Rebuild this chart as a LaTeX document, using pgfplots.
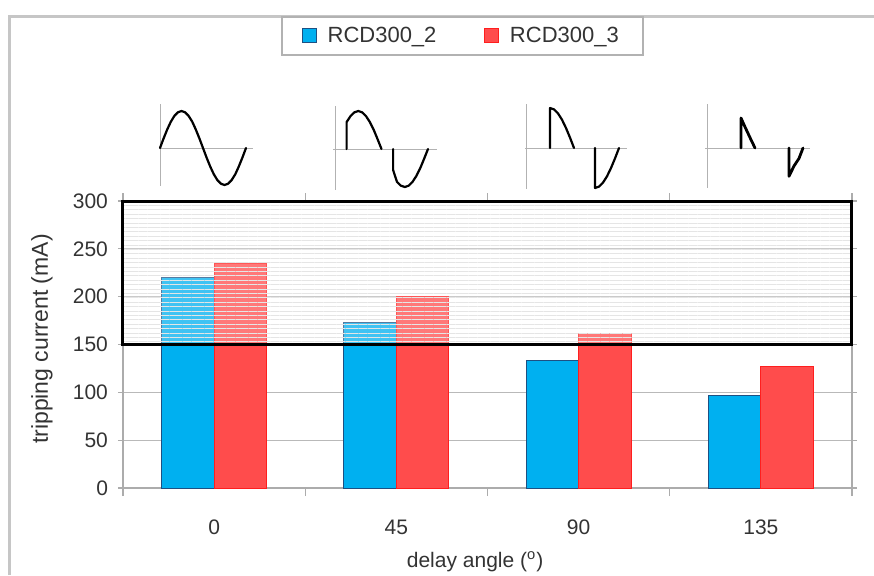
\documentclass[border=0pt]{standalone}
\usepackage{fontspec}
\setmainfont{Liberation Sans}
\usepackage{pgfplots}
\pgfplotsset{compat=1.18}
\usetikzlibrary{patterns.meta}
\definecolor{bblue}{RGB}{0,176,240}
\definecolor{bblueedge}{RGB}{30,80,130}
\definecolor{rred}{RGB}{255,76,76}
\definecolor{rrededge}{RGB}{255,30,30}
\begin{document}
\begin{tikzpicture}
% overlay axis in pixel coordinates for frame and waveform icons
\begin{axis}[at={(0,0)}, anchor=south west, scale only axis,
  width=437pt, height=287.5pt, xmin=0, xmax=874, ymin=0, ymax=575,
  y dir=reverse, hide axis, clip=false,
  iconax/.style={gray!60, line width=0.5pt},
  wave/.style={black, line width=1.1pt, line join=round, line cap=round}]
\addplot[gray!45, line width=1.5pt] coordinates {(9,575)(9,16)(874,16)};
% icon 1
\addplot[iconax] coordinates {(160,104)(160,186)};
\addplot[iconax] coordinates {(160,148)(253,148)};
\addplot[wave] coordinates {(160,148)(163.6,138.4)(167.2,129.5)(170.8,121.8)(174.3,116)(177.9,112.3)(181.5,111)(185.1,112.3)(188.7,116)(192.3,121.8)(195.8,129.5)(199.4,138.4)(203,148)(206.6,157.6)(210.2,166.5)(213.8,174.2)(217.3,180)(220.9,183.7)(224.5,185)(228.1,183.7)(231.7,180)(235.3,174.2)(238.8,166.5)(242.4,157.6)(246,148)};
% icon 2
\addplot[iconax] coordinates {(335,106)(335,190)};
\addplot[iconax] coordinates {(333,149)(437,149)};
\addplot[wave] coordinates {(346.6,149)(346.6,122.1)(350.5,116.1)(354.4,112.3)(358.3,111)(362.1,112.3)(366,116.1)(369.9,122.1)(373.8,130)(377.6,139.2)(381.5,149)};
\addplot[wave] coordinates {(393.1,149)(393.1,170)(397,181.9)(400.9,185.7)(404.8,187)(408.6,185.7)(412.5,181.9)(416.4,175.9)(420.3,168)(424.1,158.8)(428,149)};
% icon 3
\addplot[iconax] coordinates {(526,104)(526,189)};
\addplot[iconax] coordinates {(525,148)(627,148)};
\addplot[wave] coordinates {(550,148)(550,108)(554,109.4)(558,113.4)(562,119.7)(566,128)(570,137.6)(574,148)};
\addplot[wave] coordinates {(595,148)(595,188)(599,186.6)(603,182.6)(607,176.3)(611,168)(615,158.4)(619,148)};
% icon 4
\addplot[iconax] coordinates {(707,104)(707,188)};
\addplot[iconax] coordinates {(705,148)(810,148)};
\addplot[wave, line width=1.4pt] coordinates {(741,148)(741,118)(745.5,128)(750,137.6)(755,148)};
\addplot[wave, line width=1.4pt] coordinates {(789,148)(789,176.3)(794,166)(799,158.4)(803,148)};
\end{axis}

\begin{axis}[
  at={(61.5pt,43.5pt)}, anchor=south west,
  scale only axis, width=364.5pt, height=143.5pt,
  xmin=-0.5, xmax=3.5, ymin=0, ymax=300,
  clip=false,
  xtick={0,1,2,3}, xticklabels={0,45,90,135},
  minor xtick={-0.5,0.5,1.5,2.5,3.5},
  ytick={0,50,100,150,200,250,300},
  ymajorgrids, grid style={gray!55, line width=0.5pt},
  axis line style={gray!65, line width=0.6pt},
  tick align=outside,
  major x tick style={draw=none},
  minor x tick style={gray!65, line width=0.6pt},
  minor tick length=4pt,
  major tick length=2.5pt,
  ytick style={gray!65, line width=0.6pt},
  tick label style={font=\fontsize{10.5}{12}\selectfont, text=black!80},
  /pgf/number format/assume math mode=true,
  xticklabel style={yshift=-10pt},
  yticklabel style={xshift=-1.5pt},
  xlabel={delay angle (\textsuperscript{o})},
  ylabel={tripping current (mA)},
  xlabel style={at={(axis description cs:0.483,-0.258)}, anchor=center, font=\fontsize{10.5}{12}\selectfont, text=black!80},
  ylabel style={at={(axis description cs:-0.1111,0.519)}, anchor=center, font=\fontsize{11.5}{13}\selectfont, text=black!80},
  legend style={at={(0.4657,1.575)}, anchor=center, draw=gray!60, line width=0.8pt,
    font=\fontsize{11}{12}\selectfont, text=black!80, legend columns=2,
    inner xsep=10pt, inner ysep=3pt,
    /tikz/every even column/.append style={column sep=22pt}},
  legend image code/.code={\draw[#1, line width=0.5pt] (0pt,-3.5pt) rectangle (7pt,3.5pt); \path[draw=none, fill=none] (0pt,0pt) -- (10.5pt,0pt);},
]
\addplot[ybar, bar width=26.25pt, bar shift=-13.125pt, fill=bblue, draw=bblueedge, line width=0.5pt]
  coordinates {(0,220)(1,173)(2,133)(3,97)};
\addplot[ybar, bar width=26.25pt, bar shift=13.125pt, fill=rred, draw=rrededge, line width=0.5pt]
  coordinates {(0,235)(1,200)(2,162)(3,127)};
\legend{RCD300\_2, RCD300\_3}
\addplot[sharp plot, draw=none, fill=white, fill opacity=0.25, forget plot]
  coordinates {(-0.5,150)(3.5,150)(3.5,300)(-0.5,300)} -- cycle;
\addplot[sharp plot, draw=black, line width=1.5pt, pattern={Lines[angle=0, distance=2.2pt, line width=0.5pt]}, pattern color=gray!20, forget plot]
  coordinates {(-0.5,150)(3.5,150)(3.5,300)(-0.5,300)} -- cycle;
\end{axis}
\pgfresetboundingbox
\path[use as bounding box] (0,0) rectangle (437pt,287.5pt);
\end{tikzpicture}
\end{document}
